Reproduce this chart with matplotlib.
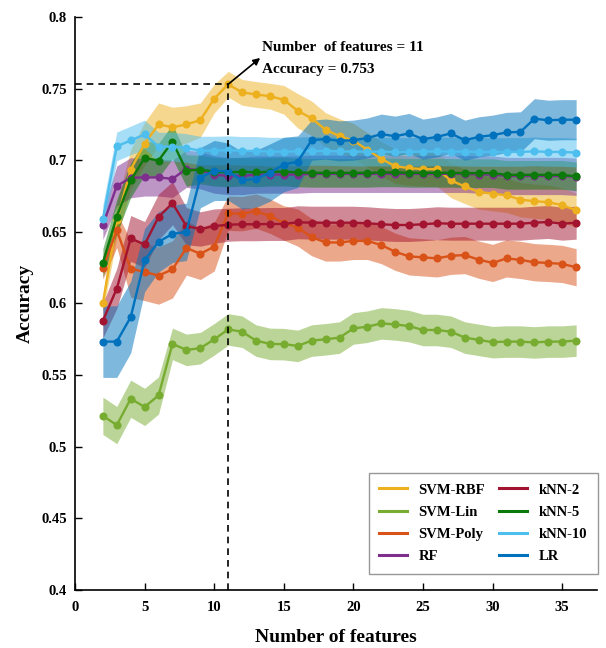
import matplotlib
matplotlib.use("Agg")
import matplotlib.pyplot as plt

# ---------------- data ----------------
n_features = list(range(2, 37))

series_names = ["SVM-RBF", "SVM-Lin", "SVM-Poly", "RF", "kNN-2", "kNN-5", "kNN-10", "LR"]

svm_rbf = [0.600, 0.658, 0.6935, 0.7115, 0.725, 0.723, 0.725, 0.728, 0.743, 0.753,
           0.7474, 0.7459, 0.7447, 0.7422, 0.7345, 0.7293, 0.7212, 0.7169, 0.7137, 0.7073,
           0.7010, 0.6958, 0.6945, 0.6938, 0.6938, 0.6859, 0.6817, 0.6779, 0.6767, 0.6755,
           0.6725, 0.6714, 0.6707, 0.6686, 0.6651]
svm_rbf_err = [0.006, 0.012, 0.014, 0.015, 0.015, 0.014, 0.013, 0.012, 0.010, 0.009,
               0.009, 0.009, 0.009, 0.010, 0.012, 0.012, 0.012, 0.012, 0.012, 0.012,
               0.012, 0.012, 0.012, 0.012, 0.012, 0.012, 0.012, 0.012, 0.012, 0.012,
               0.012, 0.012, 0.012, 0.012, 0.012]

svm_lin = [0.5216, 0.5151, 0.5335, 0.5278, 0.5358, 0.5718, 0.5676, 0.5688, 0.5750, 0.5819,
           0.5803, 0.5741, 0.5718, 0.5716, 0.5704, 0.5741, 0.5750, 0.5762, 0.5826, 0.5838,
           0.5861, 0.5854, 0.5842, 0.5815, 0.5815, 0.5803, 0.5762, 0.5746, 0.5730, 0.5734,
           0.5734, 0.5728, 0.5734, 0.5734, 0.5741]
svm_lin_err = [0.013, 0.013, 0.013, 0.013, 0.013, 0.011, 0.011, 0.011, 0.011, 0.011,
               0.011, 0.011, 0.011, 0.011, 0.011, 0.011, 0.011, 0.011, 0.011, 0.011,
               0.011, 0.011, 0.011, 0.011, 0.011, 0.011, 0.011, 0.011, 0.011, 0.011,
               0.011, 0.011, 0.011, 0.011, 0.011]

svm_poly = [0.625, 0.651, 0.6243, 0.622, 0.6195, 0.6238, 0.6388, 0.6347, 0.6397, 0.663,
            0.6627, 0.6645, 0.661, 0.6562, 0.653, 0.6463, 0.6426, 0.6426, 0.6437, 0.6437,
            0.6408, 0.6361, 0.6329, 0.6322, 0.6315, 0.6333, 0.6338, 0.6306, 0.6283, 0.6315,
            0.6304, 0.6288, 0.6283, 0.6276, 0.6253]
svm_poly_err = [0.008, 0.012, 0.020, 0.020, 0.020, 0.020, 0.019, 0.018, 0.017, 0.012,
                0.012, 0.012, 0.012, 0.012, 0.013, 0.013, 0.013, 0.013, 0.013, 0.013,
                0.013, 0.013, 0.013, 0.013, 0.013, 0.013, 0.013, 0.013, 0.013, 0.013,
                0.013, 0.013, 0.013, 0.013, 0.013]

rf = [0.6547, 0.682, 0.6878, 0.688, 0.688, 0.687, 0.694, 0.693, 0.690, 0.689,
      0.689, 0.690, 0.690, 0.690, 0.690, 0.6905, 0.6905, 0.6905, 0.6905, 0.6905,
      0.6905, 0.6905, 0.6905, 0.6905, 0.6905, 0.6905, 0.6905, 0.690, 0.690, 0.689,
      0.689, 0.689, 0.689, 0.689, 0.6885]
rf_err = [0.010, 0.014, 0.014, 0.013, 0.013, 0.013, 0.013, 0.013, 0.013, 0.013,
          0.013, 0.013, 0.013, 0.013, 0.013, 0.013, 0.013, 0.013, 0.013, 0.013,
          0.013, 0.013, 0.013, 0.013, 0.013, 0.013, 0.013, 0.013, 0.013, 0.013,
          0.013, 0.013, 0.013, 0.013, 0.013]

knn2 = [0.588, 0.6104, 0.6454, 0.6412, 0.6604, 0.670, 0.654, 0.652, 0.654, 0.655,
        0.6553, 0.6553, 0.6555, 0.6555, 0.6567, 0.6564, 0.6564, 0.6564, 0.6564, 0.6560,
        0.6553, 0.6548, 0.6548, 0.6553, 0.6560, 0.6557, 0.6557, 0.6557, 0.6557, 0.6557,
        0.6557, 0.6564, 0.6569, 0.6557, 0.6564]
knn2_err = [0.012, 0.014, 0.016, 0.016, 0.016, 0.015, 0.013, 0.012, 0.012, 0.0115,
            0.0115, 0.0115, 0.0115, 0.0115, 0.0115, 0.0115, 0.0115, 0.0115, 0.0115, 0.0115,
            0.0115, 0.0115, 0.0115, 0.0115, 0.0115, 0.0115, 0.0115, 0.0115, 0.0115, 0.0115,
            0.0115, 0.0115, 0.0115, 0.0115, 0.0115]

knn5 = [0.6284, 0.6607, 0.686, 0.7016, 0.6998, 0.713, 0.6928, 0.6935, 0.692, 0.6915,
        0.692, 0.6915, 0.692, 0.692, 0.6915, 0.6912, 0.6912, 0.6912, 0.6912, 0.6912,
        0.6915, 0.6915, 0.6912, 0.6912, 0.6912, 0.6912, 0.6910, 0.6910, 0.6910, 0.6898,
        0.6898, 0.6898, 0.6898, 0.6898, 0.6887]
knn5_err = [0.010, 0.012, 0.012, 0.012, 0.012, 0.012, 0.011, 0.010, 0.010, 0.010,
            0.010, 0.010, 0.010, 0.010, 0.010, 0.010, 0.010, 0.010, 0.010, 0.010,
            0.010, 0.010, 0.010, 0.010, 0.010, 0.010, 0.010, 0.010, 0.010, 0.010,
            0.010, 0.010, 0.010, 0.010, 0.010]

knn10 = [0.659, 0.7097, 0.7138, 0.718, 0.7095, 0.7095, 0.7085, 0.7067, 0.7067, 0.7070,
         0.7065, 0.7065, 0.7060, 0.7060, 0.7062, 0.7065, 0.7065, 0.7062, 0.7060, 0.7060,
         0.7060, 0.7058, 0.7058, 0.7060, 0.7062, 0.7060, 0.7060, 0.7058, 0.7058, 0.7058,
         0.7058, 0.7062, 0.7058, 0.7058, 0.7053]
knn10_err = [0.010, 0.010, 0.010, 0.010, 0.010, 0.010, 0.010, 0.010, 0.010, 0.010,
             0.010, 0.010, 0.010, 0.010, 0.010, 0.010, 0.010, 0.010, 0.010, 0.010,
             0.010, 0.010, 0.010, 0.010, 0.010, 0.010, 0.010, 0.010, 0.010, 0.010,
             0.010, 0.010, 0.010, 0.010, 0.010]

lr = [0.5734, 0.5734, 0.5905, 0.6303, 0.643, 0.6486, 0.650, 0.6878, 0.6928, 0.692,
      0.686, 0.687, 0.6914, 0.697, 0.699, 0.714, 0.7148, 0.7135, 0.714, 0.7155,
      0.7182, 0.7168, 0.7187, 0.7147, 0.7163, 0.7187, 0.714, 0.7163, 0.7175, 0.7194,
      0.7198, 0.729, 0.7279, 0.7283, 0.7283]
lr_err = [0.025, 0.025, 0.025, 0.022, 0.021, 0.020, 0.020, 0.021, 0.021, 0.020,
          0.020, 0.020, 0.020, 0.019, 0.018, 0.014, 0.014, 0.014, 0.014, 0.014,
          0.014, 0.014, 0.014, 0.014, 0.014, 0.014, 0.014, 0.014, 0.014, 0.014,
          0.014, 0.014, 0.014, 0.014, 0.014]

best_n = 11
best_acc = 0.753

y_ticks = [0.4, 0.45, 0.5, 0.55, 0.6, 0.65, 0.7, 0.75, 0.8]
y_tick_labels = ["0.4", "0.45", "0.5", "0.55", "0.6", "0.65", "0.7", "0.75", "0.8"]
x_ticks = [0, 5, 10, 15, 20, 25, 30, 35]

colors = ["#EDB120", "#77AC30", "#D95319", "#7E2F8E", "#A2142F", "#0B7A0B", "#4DBEEE", "#0072BD"]

means = [svm_rbf, svm_lin, svm_poly, rf, knn2, knn5, knn10, lr]
errs = [svm_rbf_err, svm_lin_err, svm_poly_err, rf_err, knn2_err, knn5_err, knn10_err, lr_err]

# ---------------- plot ----------------
plt.rcParams["font.family"] = ["Liberation Serif", "DejaVu Serif"]
plt.rcParams["font.weight"] = "bold"

fig = plt.figure(figsize=(6.06, 6.48), dpi=100)
ax = fig.add_axes([0.1238, 0.0895, 0.8614, 0.8843])

handles = []
for name, m, e, c in zip(series_names, means, errs, colors):
    lo = [a - b for a, b in zip(m, e)]
    hi = [a + b for a, b in zip(m, e)]
    ax.fill_between(n_features, lo, hi, color=c, alpha=0.5, linewidth=0)
    ax.plot(n_features, m, color=c, lw=1.7, marker="o", markersize=5.8,
            markeredgewidth=0)
    h, = ax.plot([], [], color=c, lw=2.2, label=name)
    handles.append(h)

# best point guide lines
ax.plot([0, best_n], [best_acc, best_acc], color="k", ls=(0, (4, 3)), lw=1.2)
ax.plot([best_n, best_n], [0.4, best_acc], color="k", ls=(0, (4, 3)), lw=1.2)
ax.annotate("", xy=(13.3, 0.7714), xytext=(best_n, best_acc),
            arrowprops=dict(arrowstyle="-|>", color="k", lw=1.2, mutation_scale=10,
                            shrinkA=0, shrinkB=0))
ax.text(13.45, 0.7785, "Number  of features = %d" % best_n, fontsize=11,
        fontweight="bold", va="center", ha="left")
ax.text(13.45, 0.7635, "Accuracy = %.3f" % best_acc, fontsize=11,
        fontweight="bold", va="center", ha="left")

ax.set_xlim(0, 37.5)
ax.set_ylim(0.4, 0.8)
ax.set_yticks(y_ticks)
ax.set_yticklabels(y_tick_labels)
ax.set_xticks(x_ticks)
ax.tick_params(direction="in", length=5, width=1, labelsize=10.5)
ax.tick_params(axis="x", pad=8)
ax.tick_params(axis="y", pad=6)
for lab in ax.get_xticklabels() + ax.get_yticklabels():
    lab.set_fontweight("bold")
ax.spines["top"].set_visible(False)
ax.spines["right"].set_visible(False)
ax.spines["left"].set_linewidth(1.2)
ax.spines["bottom"].set_linewidth(1.2)

ax.set_xlabel("Number of features", fontsize=14, fontweight="bold", labelpad=11)
ax.set_ylabel("Accuracy", fontsize=14, fontweight="bold", labelpad=5)

leg = ax.legend(handles=handles, ncol=2, loc="lower right",
                bbox_to_anchor=(1.015, 0.016), fontsize=10.5, frameon=True,
                fancybox=False, edgecolor="#7f7f7f", handlelength=1.9,
                columnspacing=1.0, labelspacing=0.62, borderpad=0.7,
                handletextpad=0.8)
leg.get_frame().set_linewidth(1.0)
for t in leg.get_texts():
    t.set_fontweight("bold")

fig.savefig("out.png", dpi=100)
